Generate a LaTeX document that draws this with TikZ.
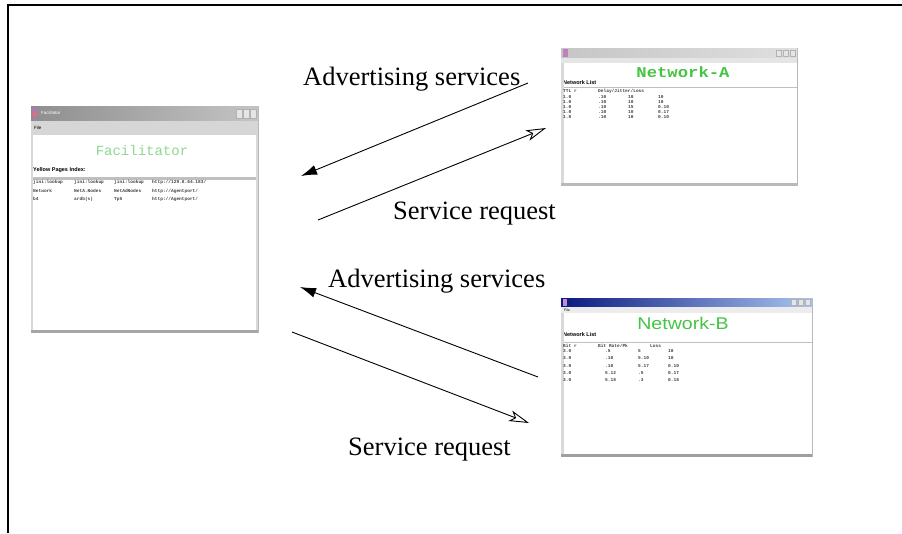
\documentclass[tikz,border=0pt]{standalone}
\usepackage{fontspec}
\setmainfont{Liberation Serif}
\newfontfamily\monof{Liberation Mono}
\newfontfamily\sansf{Liberation Sans}
\usetikzlibrary{arrows.meta}
\definecolor{fgreen}{HTML}{8FD88F}
\definecolor{ngreen}{HTML}{45C445}
\definecolor{ttlL}{HTML}{8E8E8E}
\definecolor{ttlR}{HTML}{C4C4C4}
\definecolor{blueL}{HTML}{0A1A80}
\definecolor{blueR}{HTML}{A8C4F0}
\begin{document}
\begin{tikzpicture}[x=1pt,y=-1pt,
  lbl/.style={font=\fontsize{26.5}{28}\selectfont, inner sep=0, anchor=base west},
  flow/.style={line width=0.9pt},
  adv/.style={flow,-{Latex[length=16pt,width=10pt]}},
  req/.style={flow,-{Stealth[open,length=20pt,width=11pt,inset=5pt,fill=white]}},
  win/.style={draw=gray!55, fill=white, line width=0.8pt, inner sep=0, anchor=north west},
  tinyt/.style={font=\sansf\fontsize{4.5}{5}\selectfont, inner sep=0, anchor=west},
  tinyb/.style={font=\sansf\bfseries\fontsize{5.5}{6}\selectfont, inner sep=0, anchor=west},
  tblt/.style={font=\monof\bfseries\fontsize{4.5}{5}\selectfont, inner sep=0, anchor=west, text=black!75},
  btn/.style={fill=gray!20, draw=gray!60, line width=0.3pt}]
\useasboundingbox (0,0) rectangle (902,533);
% outer frame
\draw[line width=1.3pt] (8,533) -- (8,5) -- (902,5);

% ---------------- Facilitator window ----------------
\node[win, minimum width=227pt, minimum height=226pt] (fac) at (31,106) {};
\shade[left color=ttlL, right color=ttlR] (31,106) rectangle (258,121);
\fill[violet!55] (33,108) rectangle (37,119);
\fill[red!60] (33,113) rectangle (37,116);
\node[tinyt, text=white] (factitle) at (41,113) {Facilitator};
\foreach \bx in {236,243,250} \draw[btn] (\bx,109) rectangle ++(6,9);
\fill[gray!32] (31,121) rectangle (258,135);
\node[tinyt] (facmenu) at (34,128) {File};
\node[font=\monof\fontsize{14}{14}\selectfont, text=fgreen, inner sep=0] (facname) at (142,150) {Facilitator};
\node[tinyb] (ypi) at (33,170) {Yellow Pages Index:};
\fill[gray!50] (31,177) rectangle (258,179.5);
\fill[gray!30] (31,135) rectangle (33,331);
\fill[gray!30] (256,135) rectangle (258,331);
\fill[gray!70] (31,330) rectangle (258,333);
\node[tblt] (f11) at (33,182) {jini:lookup};
\node[tblt] (f12) at (74,182) {jini:lookup};
\node[tblt] (f13) at (114,182) {jini:lookup};
\node[tblt] (f14) at (152,182) {http://129.8.64.183/};
\node[tblt] (f21) at (33,191) {Network};
\node[tblt] (f22) at (74,191) {NetA.Nodes};
\node[tblt] (f23) at (114,191) {NetAdNodes};
\node[tblt] (f24) at (152,191) {http://Agentport/};
\node[tblt] (f31) at (33,199) {b4};
\node[tblt] (f32) at (74,199) {ardb(s)};
\node[tblt] (f33) at (114,199) {Tp5};
\node[tblt] (f34) at (152,199) {http://Agentport/};

% ---------------- Network-A window ----------------
\node[win, minimum width=236pt, minimum height=137pt] (neta) at (561,48) {};
\shade[left color=gray!45, right color=gray!25] (561,48) rectangle (797,58);
\fill[violet!50] (563,49) rectangle (568,57);
\foreach \bx in {776,783,790} \draw[btn] (\bx,50) rectangle ++(5,6);
\fill[gray!20] (561,58) rectangle (797,63);
\node[font=\monof\bfseries\fontsize{15}{15}\selectfont, text=ngreen, inner sep=0, xscale=1.15] (netaname) at (683,72) {Network-A};
\node[tinyb] (netalist) at (563,83) {Network List};
\fill[gray!50] (561,86.5) rectangle (797,88);
\fill[gray!30] (561,63) rectangle (563.5,183);
\fill[gray!55] (561,183) rectangle (797,185.5);
\node[tblt] (ah1) at (563,91) {TTL r};
\node[tblt] (ah2) at (598,91) {Delay/Jitter/Loss};
\foreach \ry/\va/\vb/\vc/\vd in {97/1.0/.10/10/10, 102/1.0/.10/10/10, 107/1.0/.10/15/0.10, 112/1.0/.10/10/0.17, 117/1.0/.10/10/0.10}
  \node[tblt] at (563,\ry) {\va}
   node[tblt] at (598,\ry) {\vb}
   node[tblt] at (628,\ry) {\vc}
   node[tblt] at (658,\ry) {\vd};

% ---------------- Network-B window ----------------
\node[win, minimum width=251pt, minimum height=158pt] (netb) at (561,298) {};
\shade[left color=blueL, right color=blueR] (561,298) rectangle (812,307);
\fill[violet!45] (563,299) rectangle (567,306);
\foreach \bx in {791,798,805} \draw[btn] (\bx,299.5) rectangle ++(5,6);
\fill[gray!15] (561,307) rectangle (812,313);
\node[tinyt, font=\sansf\fontsize{3.5}{4}\selectfont] (netbmenu) at (564,310) {File};
\node[font=\sansf\fontsize{17}{17}\selectfont, text=ngreen, inner sep=0, xscale=1.15] (netbname) at (683,323) {Network-B};
\node[tinyb] (netblist) at (563,335) {Network List};
\fill[gray!50] (561,341.5) rectangle (812,343);
\fill[gray!30] (561,313) rectangle (563.5,454);
\fill[gray!75] (561,454) rectangle (812,457);
\node[tblt] (bh1) at (563,346) {Bit r};
\node[tblt] (bh2) at (598,346) {Bit Rate/Pk};
\node[tblt] (bh3) at (650,346) {Loss};
\foreach \ry/\va/\vb/\vc/\vd in {351/3.0/.5/5/10, 358/3.0/.10/5.10/10, 366/3.0/.10/5.17/0.10, 373/3.0/5.12/.5/0.17, 380/3.0/5.18/.3/0.18}
  \node[tblt] at (563,\ry) {\va}
   node[tblt] at (605,\ry) {\vb}
   node[tblt] at (638,\ry) {\vc}
   node[tblt] at (668,\ry) {\vd};

% ---------------- connectors ----------------
\coordinate (a1s) at (528,83);  \coordinate (a1e) at (301,176);
\coordinate (r1s) at (318,220); \coordinate (r1e) at (546,128);
\coordinate (a2s) at (538,377); \coordinate (a2e) at (300,287);
\coordinate (r2s) at (292,332); \coordinate (r2e) at (529,423);
\draw[adv] (a1s) -- (a1e);
\draw[req] (r1s) -- (r1e);
\draw[adv] (a2s) -- (a2e);
\draw[req] (r2s) -- (r2e);

\node[lbl] (t1) at (303,85) {Advertising services};
\node[lbl] (t2) at (393,219) {Service request};
\node[lbl] (t3) at (328,287) {Advertising services};
\node[lbl] (t4) at (348,455) {Service request};
\end{tikzpicture}
\end{document}
